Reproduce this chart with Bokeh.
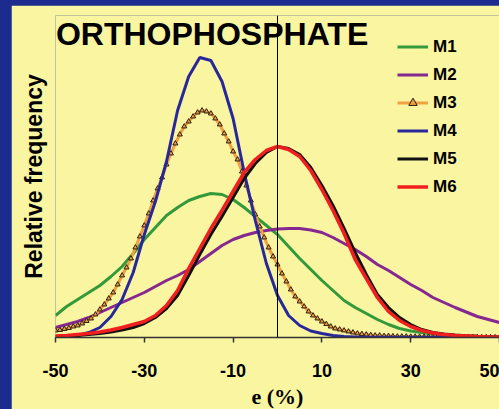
import numpy as np
from bokeh.plotting import figure
from bokeh.models import Span, Label, Legend, LegendItem, FixedTicker, Range1d
from bokeh.layouts import column
from bokeh.embed import file_html
from bokeh.resources import INLINE

# Error e (%) grid for the six models (step 2.5), and a finer grid for M3
e_grid = np.arange(-50, 50.01, 2.5)
e_fine = np.arange(-50, 50.01, 1.0)

# Relative frequency (arbitrary units)
m1 = [22, 31, 38, 45, 52, 61, 71, 84, 98, 110,
      122, 130, 137, 141, 144, 143, 138, 130, 121, 112,
      103, 91, 79, 68, 57, 47, 37, 30, 24, 18,
      13, 9, 6.5, 5, 3.5, 2.2, 1.5, 1, 0.7, 0.5, 0.3]
m2 = [10, 13, 16, 20, 25, 30, 35, 40, 45, 51,
      57, 62, 68, 76, 84, 92, 98, 102, 105, 107,
      108.5, 109, 109, 107.5, 105, 100, 94, 88, 81, 73,
      67, 60, 53, 47, 40, 35, 30, 25.5, 21, 18, 15]
m3 = [7, 7.5, 8.5, 9.5, 11, 12, 14, 16.5, 19, 23,
      28, 33, 39, 45, 53, 62, 70, 79, 90, 101,
      112, 124, 137, 149, 160, 173, 184, 194, 203, 211,
      216, 221, 225, 227, 226, 224, 219, 213, 204, 196,
      186, 178, 166, 152, 137, 123, 111, 100, 90, 81,
      73, 64, 56, 48, 41, 36, 31, 26, 22, 19,
      16, 13.5, 11, 9, 8, 7, 6, 5, 4, 3.5,
      3, 2.5, 2, 2, 1.5, 1.5, 1.2, 1, 1, 1,
      0.8, 0.8, 0.7, 0.7, 0.6, 0.6, 0.5, 0.5, 0.5, 0.4,
      0.4, 0.4, 0.4, 0.3, 0.3, 0.3, 0.3, 0.3, 0.2, 0.2, 0.2]
m4 = [0.5, 1, 2, 5, 10, 21, 38, 65, 103, 136,
      176, 227, 261, 280, 277, 256, 219, 165, 117, 74,
      42, 22, 12, 6.5, 4, 2, 1, 0.5, 0.3, 0.2,
      0.2, 0.2, 0.2, 0.2, 0.2, 0.2, 0.2, 0.2, 0.2, 0.2, 0.2]
m5 = [1, 1.5, 2, 3, 4, 5.5, 7.5, 10, 14, 20,
      29, 42, 62, 83, 103, 121, 140, 159, 174, 185,
      191, 189, 183, 170, 152, 132, 109, 85, 63, 43,
      30, 20, 13, 8, 5, 3.5, 2.5, 1.7, 1.2, 0.8, 0.5]
m6 = [1.5, 2, 3, 4, 5.5, 7.5, 10, 13, 16, 22,
      32, 47, 69, 89, 109, 127, 146, 165, 178, 187,
      191, 188, 181, 167, 148, 127, 104, 78, 59, 40,
      26, 17, 11, 7, 4.5, 3, 2, 1.5, 1, 0.7, 0.5]

x_ticks = [-50, -30, -10, 10, 30, 50]
x_tick_labels = {t: str(t) for t in x_ticks}
labels = ["M1", "M2", "M3", "M4", "M5", "M6"]

BG = "#FAF5A0"
FRAME_BLUE = "#1B2B8E"
colors = {"M1": "#33993A", "M2": "#85288F", "M3": "#F0A040",
          "M4": "#28289A", "M5": "#111111", "M6": "#F01E1E"}

SANS = "Liberation Sans"
SERIF = "Liberation Serif"

p = figure(frame_width=444, frame_height=322, output_backend="svg",
           toolbar_location=None,
           x_range=Range1d(-50, 50), y_range=Range1d(0, 322),
           min_border_left=44, min_border_right=0, min_border_top=10,
           min_border_bottom=72)
p.margin = (5, 0, 0, 11)
p.background_fill_color = BG
p.border_fill_color = BG
p.outline_line_color = None
p.xgrid.visible = False
p.ygrid.visible = False

# x axis
p.xaxis.ticker = FixedTicker(ticks=x_ticks)
p.xaxis.major_label_overrides = x_tick_labels
p.xaxis.axis_line_color = "#333333"
p.xaxis.axis_line_width = 1.5
p.xaxis.major_tick_line_color = "#333333"
p.xaxis.major_tick_line_width = 1.5
p.xaxis.major_tick_out = 5
p.xaxis.major_tick_in = 0
p.xaxis.minor_tick_line_color = None
p.xaxis.major_label_text_font = SANS
p.xaxis.major_label_text_font_style = "bold"
p.xaxis.major_label_text_font_size = "18px"
p.xaxis.major_label_text_color = "black"
p.xaxis.major_label_standoff = 21
p.xaxis.axis_label = "e (%)"
p.xaxis.axis_label_text_font = SERIF
p.xaxis.axis_label_text_font_style = "bold"
p.xaxis.axis_label_text_font_size = "22px"
p.xaxis.axis_label_text_color = "black"
p.xaxis.axis_label_standoff = 4

# y axis: label only
p.yaxis.ticker = FixedTicker(ticks=[])
p.yaxis.axis_line_color = None
p.yaxis.major_tick_line_color = None
p.yaxis.minor_tick_line_color = None
p.yaxis.major_label_text_font_size = "0px"
p.yaxis.axis_label = "Relative frequency"
p.yaxis.axis_label_text_font = SANS
p.yaxis.axis_label_text_font_style = "bold"
p.yaxis.axis_label_text_font_size = "23px"
p.yaxis.axis_label_text_color = "black"
p.yaxis.axis_label_standoff = 9

# zero-error reference line
p.add_layout(Span(location=0, dimension="height", line_color="black", line_width=1))

r1 = p.line(e_grid, m1, line_color=colors["M1"], line_width=3)
r2 = p.line(e_grid, m2, line_color=colors["M2"], line_width=3)
r3 = p.line(e_fine, m3, line_color=colors["M3"], line_width=3)
r3m = p.scatter(e_fine, m3, marker="triangle", size=5, fill_color=colors["M3"],
                line_color="#2A1E10", line_width=1)
r4 = p.line(e_grid, m4, line_color=colors["M4"], line_width=3)
r5 = p.line(e_grid, m5, line_color=colors["M5"], line_width=3)
r6 = p.line(e_grid, m6, line_color=colors["M6"], line_width=3.5)

legend = Legend(items=[
    LegendItem(label=labels[0], renderers=[r1]),
    LegendItem(label=labels[1], renderers=[r2]),
    LegendItem(label=labels[2], renderers=[r3, r3m]),
    LegendItem(label=labels[3], renderers=[r4]),
    LegendItem(label=labels[4], renderers=[r5]),
    LegendItem(label=labels[5], renderers=[r6]),
], location=(342, 140))
legend.background_fill_alpha = 0
legend.border_line_color = None
legend.padding = 0
legend.margin = 0
legend.spacing = 7
legend.glyph_width = 31
legend.glyph_height = 21
legend.label_height = 21
legend.label_standoff = 5
legend.label_text_font = SANS
legend.label_text_font_style = "bold"
legend.label_text_font_size = "17px"
legend.label_text_color = "black"
p.add_layout(legend)

p.add_layout(Label(x=-49.9, y=304, text="ORTHOPHOSPHATE", text_font=SANS,
                   text_font_style="bold", text_font_size="32px",
                   text_color="black", text_baseline="middle"))

page = column(p, styles={"background-color": FRAME_BLUE})

open("out.html", "w").write(file_html(page, INLINE))
